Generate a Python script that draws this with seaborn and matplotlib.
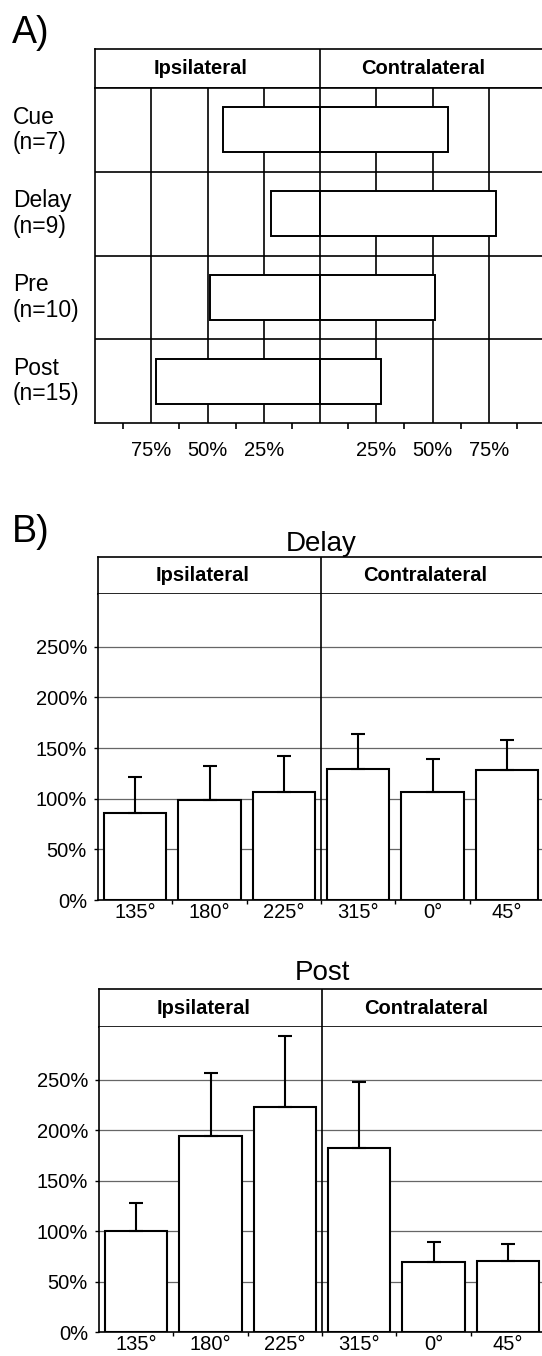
import numpy as np
import pandas as pd
import seaborn as sns
import matplotlib.pyplot as plt
from matplotlib.transforms import blended_transform_factory, ScaledTranslation

W, H = 542, 1356

# A) Anteil der Zellen mit ipsi- bzw. kontralateraler Präferenz
conditions = ["Cue", "Delay", "Pre", "Post"]
n_cells = [7, 9, 10, 15]
ipsi_pct = [43, 22, 49, 73]
contra_pct = [57, 78, 51, 27]

# B) normierte Aktivität je Richtung (Mittelwert + Fehler)
directions = ["135°", "180°", "225°", "315°", "0°", "45°"]
delay_mean = [86, 99, 107, 129, 107, 128]
delay_err = [35, 33, 35, 35, 32, 30]
post_mean = [100, 194, 223, 182, 69, 70]
post_err = [28, 62, 70, 66, 20, 17]

sns.set_theme(style="white")
plt.rcParams["font.family"] = ["Liberation Sans", "DejaVu Sans"]
plt.rcParams.update({"text.color": "black", "xtick.color": "black",
                     "ytick.color": "black", "axes.labelcolor": "black"})

LW = 1.2


def px_rect(left, top, right, bottom):
    # Pixelkoordinaten -> Figure-Anteile
    return [left / W, 1 - bottom / H, (right - left) / W, (bottom - top) / H]


def header(ax, xlim, divider, x_ipsi, x_contra):
    ax.set_xlim(*xlim)
    ax.set_ylim(0, 1)
    ax.set_xticks([])
    ax.set_yticks([])
    for side in ["top", "bottom", "left"]:
        ax.spines[side].set_color("black")
        ax.spines[side].set_linewidth(LW)
    ax.spines["right"].set_visible(False)
    ax.axvline(divider, color="black", lw=LW)
    ax.text(x_ipsi, 0.5, "Ipsilateral", ha="center", va="center",
            fontsize=14.5, fontweight="bold")
    ax.text(x_contra, 0.5, "Contralateral", ha="center", va="center",
            fontsize=14.5, fontweight="bold")


fig = plt.figure(figsize=(W / 100, H / 100), dpi=100)

# ---------- Panel A ----------
fig.text(12 / W, 1 - 43 / H, "A)", fontsize=27, ha="left", va="baseline")

head_a = fig.add_axes(px_rect(95, 49, 545, 88))
header(head_a, (-100, 100), 0, -53, 46)

ax_a = fig.add_axes(px_rect(95, 88, 545, 423))
for x in [-75, -50, -25, 0, 25, 50, 75]:
    ax_a.axvline(x, color="black", lw=LW, zorder=0)
for y in [0.5, 1.5, 2.5]:
    ax_a.axhline(y, color="black", lw=LW, zorder=0)

sns.barplot(x=[-v for v in ipsi_pct], y=conditions, orient="h", color="white",
            saturation=1, edgecolor="black", linewidth=1.4, width=0.54,
            errorbar=None, ax=ax_a, zorder=2)
sns.barplot(x=contra_pct, y=conditions, orient="h", color="white",
            saturation=1, edgecolor="black", linewidth=1.4, width=0.54,
            errorbar=None, ax=ax_a, zorder=2)

ax_a.set_xlim(-100, 100)
ax_a.set_ylim(3.5, -0.5)
ax_a.set_xlabel("")
ax_a.set_ylabel("")
ax_a.set_yticks([])
major = np.arange(-100, 101, 25)
ax_a.set_xticks(major)
ax_a.set_xticklabels(["" if abs(v) in (0, 100) else f"{abs(v)}%" for v in major],
                     fontsize=14.5)
# Beschriftungen sitzen im Original etwas rechts der Striche
shift = ScaledTranslation(8 / 100, 0, fig.dpi_scale_trans)
for lab in ax_a.get_xticklabels():
    lab.set_transform(lab.get_transform() + shift)
ax_a.set_xticks(np.arange(-87.5, 100, 25), minor=True)
ax_a.tick_params(axis="x", which="major", length=8, width=LW, pad=5, color="black")
ax_a.tick_params(axis="x", which="minor", length=4, width=LW, color="black", bottom=True)
for side in ["top", "bottom", "left"]:
    ax_a.spines[side].set_color("black")
    ax_a.spines[side].set_linewidth(LW)
ax_a.spines["right"].set_visible(False)

trans = blended_transform_factory(fig.transFigure, ax_a.transData)
for i, (c, n) in enumerate(zip(conditions, n_cells)):
    ax_a.text(13 / W, i, f"{c}\n(n={n})", transform=trans, ha="left",
              va="center", fontsize=16.5, linespacing=1.15)


# ---------- Panel B ----------
fig.text(12 / W, 1 - 542 / H, "B)", fontsize=27, ha="left", va="baseline")


def effect_panel(top, head_bottom, bottom, left, right, title, title_pad, means, errs):
    head = fig.add_axes(px_rect(left, top, right, head_bottom))
    header(head, (-0.5, 5.5), 2.5, 0.9, 3.9)
    head.set_title(title, fontsize=20, pad=title_pad, color="black")

    ax = fig.add_axes(px_rect(left, head_bottom, right, bottom))
    for y in [50, 100, 150, 200, 250]:
        ax.axhline(y, color="#666666", lw=0.9, zorder=0)
    df = pd.DataFrame({"direction": directions, "value": means})
    sns.barplot(data=df, x="direction", y="value", order=directions, color="white",
                saturation=1, edgecolor="black", linewidth=1.5, width=0.84,
                errorbar=None, ax=ax, zorder=2)
    pos = np.arange(len(directions))
    ax.errorbar(pos, means, yerr=[np.zeros(len(means)), errs], fmt="none",
                ecolor="black", elinewidth=1.5, capsize=5, capthick=1.5, zorder=3)
    ax.axvline(2.5, color="black", lw=LW, zorder=1)

    ax.set_xlim(-0.5, 5.5)
    ax.set_ylim(0, 302)
    ax.set_xlabel("")
    ax.set_ylabel("")
    ax.set_yticks([0, 50, 100, 150, 200, 250])
    ax.set_yticklabels([f"{v}%" for v in [0, 50, 100, 150, 200, 250]], fontsize=14.5)
    ax.set_xticks(pos)
    ax.set_xticklabels(directions, fontsize=14.5)
    ax.set_xticks(pos[:-1] + 0.5, minor=True)
    ax.tick_params(axis="x", which="major", length=0, pad=2)
    ax.tick_params(axis="x", which="minor", length=3, width=1, bottom=True, color="black")
    ax.tick_params(axis="y", length=3, width=1, left=True, pad=5, color="black")
    for side in ["bottom", "left"]:
        ax.spines[side].set_color("black")
        ax.spines[side].set_linewidth(LW)
    ax.spines["top"].set_visible(False)
    ax.spines["right"].set_visible(False)
    return ax


effect_panel(557, 594, 900, 98, 544, "Delay", 2.5, delay_mean, delay_err)
effect_panel(989, 1027, 1332, 99, 545, "Post", 6.5, post_mean, post_err)

fig.savefig("out.png", dpi=100)
